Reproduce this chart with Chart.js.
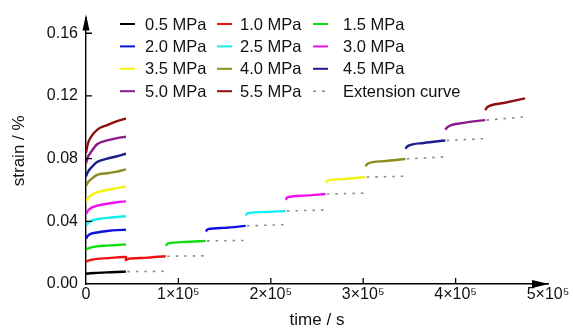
<!DOCTYPE html>
<html>
<head>
<meta charset="utf-8">
<script src="https://cdn.jsdelivr.net/npm/chart.js@4/dist/chart.umd.min.js"></script>
<style>
  html, body { margin: 0; padding: 0; background: #fff; }
  #wrap { width: 573px; height: 336px; position: relative; }
</style>
</head>
<body>
<div id="wrap"><canvas id="c" width="573" height="336"></canvas></div>
<script>
// ---------- DATA ----------
const seriesLabels = ['0.5 MPa','1.0 MPa','1.5 MPa','2.0 MPa','2.5 MPa','3.0 MPa',
                      '3.5 MPa','4.0 MPa','4.5 MPa','5.0 MPa','5.5 MPa'];
const extensionLabel = 'Extension curve';

// single-stage creep tests (time in s)
const singleTime = [0, 2000, 5000, 12000, 23000, 33600, 43200];
const single05 = [0.0065, 0.0067, 0.0069, 0.0071, 0.0074, 0.0077, 0.0079];
const single10 = [0.0141, 0.0148, 0.0153, 0.0160, 0.0165, 0.0170, 0.0173];
const single15 = [0.0218, 0.0226, 0.0232, 0.0240, 0.0245, 0.0249, 0.0252];
const single20 = [0.0289, 0.0308, 0.0320, 0.0329, 0.0338, 0.0344, 0.0346];
const single25 = [0.0371, 0.0388, 0.0401, 0.0413, 0.0422, 0.0428, 0.0432];
const single30 = [0.0446, 0.0468, 0.0483, 0.0500, 0.0512, 0.0522, 0.0527];
const single35 = [0.0524, 0.0548, 0.0564, 0.0585, 0.0600, 0.0612, 0.0623];
const single40 = [0.0625, 0.0648, 0.0666, 0.0697, 0.0707, 0.0717, 0.0731];
const single45 = [0.0686, 0.0715, 0.0739, 0.0778, 0.0800, 0.0815, 0.0831];
const single50 = [0.0770, 0.0810, 0.0839, 0.0892, 0.0916, 0.0931, 0.0940];
const single55 = [0.0837, 0.0895, 0.0935, 0.0984, 0.1014, 0.1039, 0.1057];

// multi-stage loading: each stage lasts 43200 s
const stageDuration = 43200;
const stageOffsets = [0, 2500, 20000, 43200];
const multi10 = [0.0153, 0.0160, 0.0167, 0.0177];
const multi15 = [0.0244, 0.0259, 0.0268, 0.0275];
const multi20 = [0.0336, 0.0350, 0.0358, 0.0371];
const multi25 = [0.0438, 0.0452, 0.0459, 0.0466];
const multi30 = [0.0538, 0.0554, 0.0564, 0.0574];
const multi35 = [0.0646, 0.0660, 0.0670, 0.0682];
const multi40 = [0.0751, 0.0768, 0.0784, 0.0798];
const multi45 = [0.0863, 0.0880, 0.0900, 0.0916];
const multi50 = [0.0985, 0.1002, 0.1028, 0.1046];
const multi55 = [0.1110, 0.1129, 0.1155, 0.1185];

// extension curves (start / end strain of each stage extension)
const extStart = [0.0079, 0.0177, 0.0275, 0.0371, 0.0466, 0.0574, 0.0682, 0.0798, 0.0916, 0.1046];
const extEnd   = [0.0081, 0.0180, 0.0278, 0.0379, 0.0472, 0.0580, 0.0688, 0.0812, 0.0928, 0.1067];

// axis ticks
const xTicks = [0, 100000, 200000, 300000, 400000, 500000];
const yTicks = [0, 0.04, 0.08, 0.12, 0.16];

// ---------- STYLE ----------
const colors = ['#000000','#ee1111','#11dd11','#1010e0','#11eeee','#ee11ee',
                '#f2f214','#8c8c20','#1c1c8c','#8a1a8a','#8e0e0e'];
const extColor = '#8a8a8a';
const FONT = "'Liberation Sans', Arial, sans-serif";

const singles = [single05, single10, single15, single20, single25, single30,
                 single35, single40, single45, single50, single55];
const multis = [null, multi10, multi15, multi20, multi25, multi30,
                multi35, multi40, multi45, multi50, multi55];

const datasets = seriesLabels.map((lab, i) => {
  const data = singleTime.map((t, k) => ({x: t, y: singles[i][k]}));
  if (multis[i]) {
    if (i > 1) data.push({x: singleTime[singleTime.length - 1], y: null});
    stageOffsets.forEach((o, k) => data.push({x: i * stageDuration + o, y: multis[i][k]}));
  }
  return {
    label: lab, data, borderColor: colors[i], backgroundColor: colors[i],
    borderWidth: 2.4, pointRadius: 0, fill: false, spanGaps: false,
    cubicInterpolationMode: 'monotone', order: 1
  };
});
const extData = [];
extStart.forEach((v, i) => {
  extData.push({x: (i + 1) * stageDuration + 1500, y: v});
  extData.push({x: (i + 2) * stageDuration, y: extEnd[i]});
  extData.push({x: (i + 2) * stageDuration, y: null});
});
datasets.push({
  label: extensionLabel, data: extData, borderColor: extColor, backgroundColor: extColor,
  borderWidth: 1.6, borderDash: [2.5, 6], pointRadius: 0, fill: false, spanGaps: false, order: 2
});

// ---------- PLUGINS ----------
const axisDecor = {
  id: 'axisDecor',
  afterDraw(chart) {
    const {ctx, chartArea: a, scales: {x, y}} = chart;
    ctx.save();
    ctx.strokeStyle = '#000'; ctx.fillStyle = '#000'; ctx.lineWidth = 1.3;
    // inner ticks
    ctx.beginPath();
    yTicks.forEach(v => { if (v === 0) return; const py = y.getPixelForValue(v);
      ctx.moveTo(a.left, py); ctx.lineTo(a.left + 6, py); });
    xTicks.forEach(v => { if (v === 0 || v === 500000) return; const px = x.getPixelForValue(v);
      ctx.moveTo(px, a.bottom); ctx.lineTo(px, a.bottom - 6); });
    ctx.stroke();
    // arrows
    ctx.beginPath();
    ctx.moveTo(a.left, a.top - 3); ctx.lineTo(a.left - 3.5, a.top + 13); ctx.lineTo(a.left + 3.5, a.top + 13); ctx.closePath();
    ctx.fill();
    ctx.beginPath();
    ctx.moveTo(a.right + 1, a.bottom); ctx.lineTo(a.right - 16, a.bottom - 4); ctx.lineTo(a.right - 16, a.bottom + 4); ctx.closePath();
    ctx.fill();
    ctx.restore();
  }
};

const gridLegend = {
  id: 'gridLegend',
  afterDraw(chart) {
    const {ctx} = chart;
    const lineX = [120, 217, 313];
    const textX = [145, 240, 343];
    ctx.save();
    ctx.font = '16.5px ' + FONT;
    ctx.textBaseline = 'middle';
    ctx.fillStyle = '#111';
    chart.data.datasets.forEach((ds, k) => {
      const col = k % 3, row = Math.floor(k / 3);
      const yy = 24 + row * 22.4;
      ctx.beginPath();
      ctx.strokeStyle = ds.borderColor;
      if (ds.borderDash) { ctx.setLineDash([3, 6]); ctx.lineWidth = 1.6; }
      else { ctx.setLineDash([]); ctx.lineWidth = 2; }
      ctx.moveTo(lineX[col], yy); ctx.lineTo(lineX[col] + 15, yy);
      ctx.stroke();
      ctx.fillText(ds.label, textX[col], yy + 1);
    });
    ctx.restore();
  }
};

// ---------- CHART ----------
new Chart(document.getElementById('c'), {
  type: 'line',
  data: {datasets},
  options: {
    responsive: false, animation: false, devicePixelRatio: 1,
    layout: {padding: {left: 0, right: 25, top: 6, bottom: 0}},
    plugins: {legend: {display: false}, tooltip: {enabled: false}},
    scales: {
      x: {
        type: 'linear', min: 0, max: 500000,
        afterFit(s) { s.height = 52; },
        afterBuildTicks(s) { s.ticks = xTicks.map(v => ({value: v})); },
        ticks: {
          autoSkip: false, maxRotation: 0, padding: 1, color: '#111',
          font: {family: FONT, size: 16},
          callback: v => v === 0 ? '0' : (v / 100000) + '\u00d710\u2075'
        },
        grid: {drawOnChartArea: false, drawTicks: false},
        border: {display: true, color: '#000', width: 1.4},
        title: {display: true, text: 'time / s', color: '#111',
                font: {family: FONT, size: 17}, padding: {top: 0, bottom: 5}}
      },
      y: {
        type: 'linear', min: 0, max: 0.17,
        afterFit(s) { s.width = 86; },
        afterBuildTicks(s) { s.ticks = yTicks.map(v => ({value: v})); },
        ticks: {
          padding: 8, color: '#111', font: {family: FONT, size: 16},
          callback: v => Number(v).toFixed(2)
        },
        grid: {drawOnChartArea: false, drawTicks: false},
        border: {display: true, color: '#000', width: 1.4},
        title: {display: true, text: 'strain / %', color: '#111',
                font: {family: FONT, size: 17}, padding: {top: 9, bottom: 0}}
      }
    }
  },
  plugins: [axisDecor, gridLegend]
});
</script>
</body>
</html>
